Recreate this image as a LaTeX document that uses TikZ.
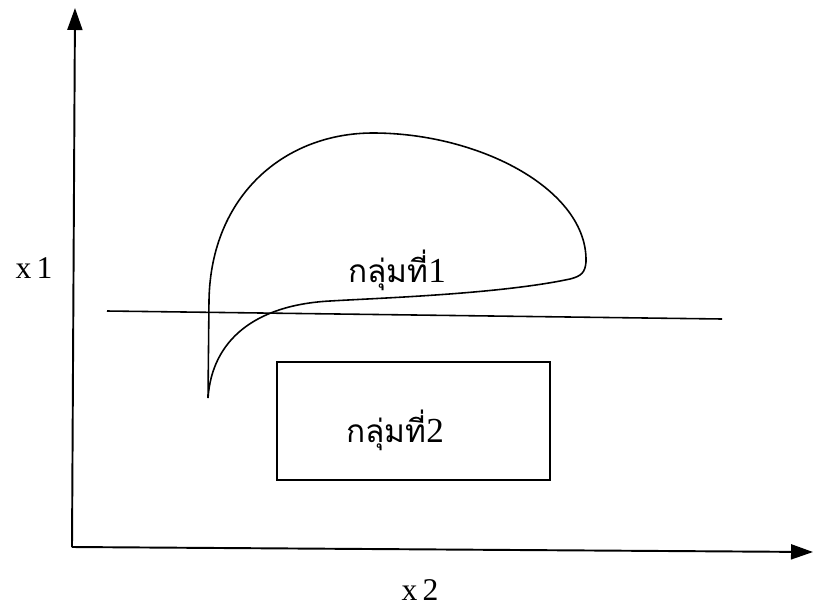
\documentclass[tikz,border=0pt]{standalone}
\usepackage{fontspec}
\setmainfont{Liberation Serif}
\newfontfamily\thaifont[Script=Thai]{Loma}
\usetikzlibrary{arrows.meta}

\tikzset{
  axis/.style={line width=1.1pt,-{Triangle[width=0.3cm,length=0.44cm]}},
  group/.style={line width=0.9pt},
  grouplabel/.style={font=\fontsize{20}{24}\selectfont},
  axislabel/.style={font=\fontsize{18}{22}\selectfont}
}
\newcommand{\thaigroup}[1]{{\thaifont\fontsize{18}{24}\selectfont กลุ่มที่}#1}

\begin{document}
\begin{tikzpicture}[x=0.02cm,y=-0.02cm]
    \useasboundingbox (0,0) rectangle (814,605);
    % Axes
    \coordinate (origin) at (72,547);
    \coordinate (ytip) at (75,8);
    \coordinate (xtip) at (813,552);
    \draw[axis] (origin) -- (ytip);
    \draw[axis] (origin) -- (xtip);
    \node[axislabel] (xone) at (34,268) {x\,1};
    \node[axislabel] (xtwo) at (420,590) {x\,2};
    % Dividing line
    \coordinate (lineL) at (107,311);
    \coordinate (lineR) at (722,319);
    \draw[group] (lineL) -- (lineR);
    % Group 1 region
    \draw[group] (208,398) -- (209,300)
        .. controls (211,195) and (285,133) .. (373,133)
        .. controls (480,133) and (588,190) .. (586,262)
        .. controls (585,272) and (582,276) .. (570,279)
        .. controls (500,294) and (380,298) .. (330,301)
        .. controls (255,305) and (212,340) .. (208,398);
    \node[grouplabel] (gone) at (397,270) {\thaigroup{1}};
    % Group 2 box
    \draw[group] (277,362) rectangle (550,480);
    \node[grouplabel] (gtwo) at (395,430) {\thaigroup{2}};
\end{tikzpicture}
\end{document}
